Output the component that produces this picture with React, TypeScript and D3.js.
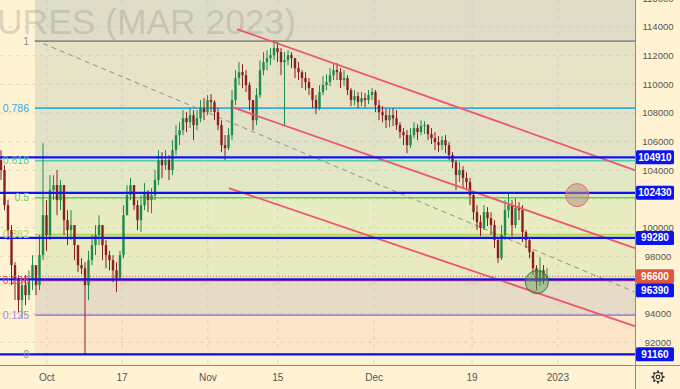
import React from 'react';
import * as d3 from 'd3';

const W = 680;
const H = 389;

// ---- candle data (index-based, hourly-ish bars) ----
const firstOpen = 104710;
const closes = [
  104020, 101570, 99830, 97380, 96340, 94940, 95990, 95290, 96340, 97380,
  95990, 98080, 100870, 99480, 102620, 102970, 101920, 102970, 100520, 99830,
  100180, 98780, 97380, 97170, 95990, 97730, 98780, 99480, 100180, 98780,
  98080, 97730, 97020, 96480, 98080, 100870, 102270, 102970, 101570, 100520,
  101570, 102480, 101920, 102270, 103320, 104710, 104360, 104710, 104020, 105410,
  106460, 106810, 107640, 107360, 107850, 107160, 107640, 108340, 108060, 108900,
  108760, 108060, 107160, 105760, 105550, 106460, 108900, 110440, 110850, 110640,
  109950, 108900, 107500, 109250, 110990, 111550, 111830, 112040, 112530, 112250,
  111550, 111690, 112040, 111830, 111130, 110850, 110440, 110160, 109740, 108900,
  108340, 109460, 109950, 110160, 110640, 110990, 110850, 110300, 110440, 109600,
  108900, 109180, 108760, 109040, 108900, 109250, 109460, 108550, 108060, 107850,
  107500, 107850, 107640, 107160, 106670, 106460, 105760, 106460, 106950, 106670,
  107090, 107160, 106530, 106250, 105970, 105760, 106110, 105760, 105060, 104570,
  103670, 104020, 103460, 103180, 102270, 101080, 100380, 99970, 101080, 100660,
  100180, 99130, 97870, 99480, 101220, 101570, 100180, 101360, 101220, 99690,
  99130, 98290, 97170, 96200, 97020, 96480, 96600,
];
const highs = [
  105410, 104360, 101920, 100180, 97590, 96690, 96340, 96690, 97020, 98080,
  97380, 99480, 105900, 101920, 103670, 103670, 104020, 103320, 102970, 101220,
  101220, 100180, 98080, 97870, 97590, 98380, 99480, 100180, 100870, 99830,
  99130, 98380, 98080, 97590, 98380, 101570, 102970, 103460, 102970, 101920,
  102270, 103110, 102620, 102760, 104020, 105410, 105270, 105410, 105060, 106110,
  107160, 107360, 108200, 108060, 108340, 108200, 108200, 108900, 109040, 109250,
  109320, 108900, 108340, 107500, 106460, 106950, 109600, 110990, 111550, 111410,
  110990, 110160, 108900, 109740, 111690, 112250, 112390, 112530, 113090, 112950,
  112530, 112250, 112390, 112250, 111830, 111550, 110990, 110850, 110440, 109740,
  109250, 109950, 110570, 110710, 111130, 111410, 111480, 111130, 110990, 110640,
  109740, 109600, 109460, 109460, 109390, 109600, 109740, 109600, 108900, 108480,
  108340, 108340, 108340, 108200, 107360, 106950, 106810, 106950, 107360, 107220,
  107500, 107430, 107220, 106950, 106670, 106390, 106390, 106460, 105970, 105270,
  104710, 104570, 104290, 103870, 103460, 102480, 101570, 100870, 101570, 101430,
  101080, 100520, 99270, 100180, 101920, 102410, 101920, 102060, 101780, 101570,
  99830, 99270, 98380, 97380, 97940, 97380, 97170,
];
const lows = [
  103320, 101220, 99130, 95990, 94940, 94100, 93680, 94590, 94940, 95640,
  95290, 95640, 97730, 98380, 99130, 101920, 100870, 101220, 99480, 98780,
  99130, 97730, 96890, 96750, 91170, 94940, 97380, 98080, 98780, 97730,
  97170, 97020, 96200, 95500, 96890, 97870, 100870, 101920, 101220, 99830,
  99690, 101220, 101080, 101010, 101920, 102970, 103460, 104020, 103320, 103670,
  105060, 105760, 106460, 106670, 106950, 106110, 106810, 107360, 107500, 107850,
  108060, 107500, 106810, 105270, 104710, 105410, 106110, 108550, 109950, 109740,
  109460, 108200, 106810, 107160, 109040, 110640, 110990, 111340, 111690, 111550,
  110640, 107160, 111340, 111130, 110440, 110300, 109740, 109600, 109250, 108340,
  107920, 108200, 109250, 109600, 109880, 110300, 110300, 109740, 109880, 109250,
  108480, 108550, 108340, 108480, 108410, 108620, 108900, 108060, 107500, 107360,
  106950, 107020, 107090, 106810, 106250, 105760, 105200, 105550, 106250, 106110,
  106460, 106530, 106110, 105830, 105410, 105270, 105410, 105200, 104710, 104150,
  102620, 103180, 102760, 102620, 101570, 100520, 99830, 99410, 99830, 100110,
  99480, 98570, 97520, 97730, 99130, 100660, 99410, 99970, 100520, 98990,
  98570, 97870, 96690, 95640, 95920, 96060, 96340,
];

// ---- fibonacci retracement ----
const fibLow = 91160;
const fibHigh = 113020;
const fibStartIdx = 9.7;
const fibRatios = [1, 0.786, 0.618, 0.5, 0.382, 0.236, 0.125, 0];
const fibLabels = ['1', '0.786', '0.618', '0.5', '0.382', '0.236', '0.125', '0'];
const fibLineColors = ['#8e8e8e', '#38a9e0', '#4fcda3', '#62d162', '#b4d645', '#ef4646', '#a08cd6', '#8e8e8e'];
const fibFillColors = ['#e6e3c6', '#e1e2c8', '#e2e8c5', '#e7ecc1', '#e9eabf', '#e6dbc6', '#fce5c8'];
const aboveFibFill = '#dfdcc7';

// ---- horizontal levels ----
const levelValues = [104910, 102430, 99280, 96390, 91160];
const lastPrice = 96600;

// ---- channel + trend lines: [startIdx, startPrice, endIdx, endPrice] ----
const channelLines = [
  [67.4, 113860, 181.1, 104020],
  [66.0, 108410, 181.1, 98570],
  [65.1, 102760, 181.1, 93130],
];
const dashedLine = [9.7, 113090, 181.1, 95500];

// ---- circles: [idx, price] ----
const redCircle = [164.6, 102270];
const greenCircle = [153.1, 96200];

// ---- axes ----
const yTicks = [92000, 94000, 96000, 98000, 100000, 102000, 104000, 106000, 108000, 110000, 112000, 114000, 116000];
const xTickIdx = [13.1, 34.6, 59.1, 79.1, 106.6, 134.6, 159.1];
const xTickLabels = ['Oct', '17', 'Nov', '15', 'Dec', '19', '2023'];
const title = 'FUTURES (MAR 2023)';

const PLOT_R = 635;
const PLOT_B = 365;

export default function App() {
  const x = d3.scaleLinear().domain([0, closes.length - 1]).range([1, 547]);
  const y = d3.scaleLinear().domain([91160, 104910]).range([354.3, 157.3]);
  const fibY = (r: number) => y(fibLow + (fibHigh - fibLow) * r);
  const fibX0 = x(fibStartIdx);

  const font = "'Liberation Sans', Arial, sans-serif";
  const green = '#1d8a4e';
  const red = '#8a1f1f';

  const boxes = [
    ...levelValues.map(v => ({ v, fill: '#0a14f0', yy: y(v) })),
    { v: lastPrice, fill: '#dc5840', yy: y(lastPrice) },
  ];
  boxes.sort((a, b) => a.yy - b.yy);
  for (let i = 1; i < boxes.length; i++) {
    if (boxes[i].yy - boxes[i - 1].yy < 14) boxes[i].yy = boxes[i - 1].yy + 14;
  }
  const visibleTicks = yTicks.filter(t => boxes.every(b => Math.abs(y(t) - b.yy) > 9));

  const gear = d3.range(8).map(k => {
    const a = (k * Math.PI) / 4;
    return [Math.cos(a), Math.sin(a)];
  });

  return (
    <svg width={W} height={H} style={{ position: 'fixed', left: 0, top: 0 }} fontFamily={font}>
      <defs>
        <clipPath id="plot">
          <rect x={0} y={0} width={PLOT_R} height={PLOT_B} />
        </clipPath>
      </defs>
      <rect x={0} y={0} width={W} height={H} fill="#fff3d4" />
      <g clipPath="url(#plot)">
        <rect x={fibX0} y={0} width={PLOT_R - fibX0} height={fibY(1)} fill={aboveFibFill} />
        {fibFillColors.map((c, i) => (
          <rect key={i} x={fibX0} y={fibY(fibRatios[i])} width={PLOT_R - fibX0}
            height={fibY(fibRatios[i + 1]) - fibY(fibRatios[i])} fill={c} />
        ))}
        {yTicks.map(t => (
          <line key={t} x1={0} x2={PLOT_R} y1={y(t)} y2={y(t)} stroke="#c9c7b8" strokeOpacity={0.6} strokeDasharray="4,4" />
        ))}
        {xTickIdx.map(t => (
          <line key={t} x1={x(t)} x2={x(t)} y1={0} y2={PLOT_B} stroke="#c9c7b8" strokeOpacity={0.6} strokeDasharray="4,4" />
        ))}
        <text x={296} y={34} textAnchor="end" fontSize={35.4} fill="#8c8a80" fillOpacity={0.3}>{title}</text>
        {fibRatios.map((r, i) => (
          <line key={r} x1={fibX0} x2={PLOT_R} y1={fibY(r)} y2={fibY(r)} stroke={fibLineColors[i]} strokeWidth={1.6} />
        ))}
        <line x1={x(dashedLine[0])} y1={y(dashedLine[1])} x2={x(dashedLine[2])} y2={y(dashedLine[3])}
          stroke="#8f8f8f" strokeWidth={1} strokeDasharray="5,4" />
        {closes.map((c, i) => {
          const o = i === 0 ? firstOpen : closes[i - 1];
          const col = c >= o ? green : red;
          const top = y(Math.max(o, c));
          const bot = y(Math.min(o, c));
          const cx = x(i);
          return (
            <g key={i}>
              <line x1={cx} x2={cx} y1={y(highs[i])} y2={y(lows[i])} stroke={col} strokeWidth={1} />
              <rect x={cx - 1.2} y={top} width={2.4} height={Math.max(1, bot - top)} fill={col} />
            </g>
          );
        })}
        {channelLines.map((l, i) => (
          <line key={i} x1={x(l[0])} y1={y(l[1])} x2={x(l[2])} y2={y(l[3])} stroke="#ee5470" strokeWidth={1.8} />
        ))}
        {levelValues.map(v => (
          <line key={v} x1={0} x2={PLOT_R} y1={y(v)} y2={y(v)} stroke="#0a14f0" strokeWidth={2.2} />
        ))}
        <line x1={0} x2={PLOT_R} y1={y(lastPrice)} y2={y(lastPrice)} stroke="#dc5840" strokeWidth={1} strokeDasharray="1,2" />
        <circle cx={x(redCircle[0])} cy={y(redCircle[1])} r={11.5} fill="#b8907e" fillOpacity={0.55} stroke="#e8677a" strokeWidth={1} />
        <circle cx={x(greenCircle[0])} cy={y(greenCircle[1])} r={11.5} fill="#5f9f5a" fillOpacity={0.45} stroke="#2f7a34" strokeWidth={1} />
        {fibRatios.map((r, i) => (
          <text key={r} x={29} y={fibY(r)} dy="0.35em" textAnchor="end" fontSize={10.5} fill={fibLineColors[i]}>{fibLabels[i]}</text>
        ))}
      </g>
      <line x1={PLOT_R + 0.5} x2={PLOT_R + 0.5} y1={0} y2={H} stroke="#8a8a8a" strokeWidth={1} />
      <line x1={0} x2={W} y1={PLOT_B + 0.5} y2={PLOT_B + 0.5} stroke="#8a8a8a" strokeWidth={1} />
      {visibleTicks.map(t => (
        <text key={t} x={658} y={y(t)} dy="0.35em" textAnchor="middle" fontSize={9.5} fill="#555">{t}</text>
      ))}
      {boxes.map(b => (
        <g key={b.v}>
          <rect x={636} y={b.yy - 7} width={38} height={14} rx={1.5} fill={b.fill} />
          <text x={655} y={b.yy} dy="0.35em" textAnchor="middle" fontSize={10} fontWeight="bold" fill="#fff">{b.v}</text>
        </g>
      ))}
      {xTickIdx.map((t, i) => (
        <text key={t} x={x(t)} y={377} dy="0.35em" textAnchor="middle" fontSize={10} fill="#555">{xTickLabels[i]}</text>
      ))}
      <g transform="translate(658,377)" stroke="#333" fill="none" strokeWidth={1.2}>
        <circle r={4.5} />
        <circle r={1.8} />
        {gear.map((g, k) => (
          <line key={k} x1={g[0] * 4.5} y1={g[1] * 4.5} x2={g[0] * 6.5} y2={g[1] * 6.5} strokeWidth={1.8} />
        ))}
      </g>
    </svg>
  );
}
